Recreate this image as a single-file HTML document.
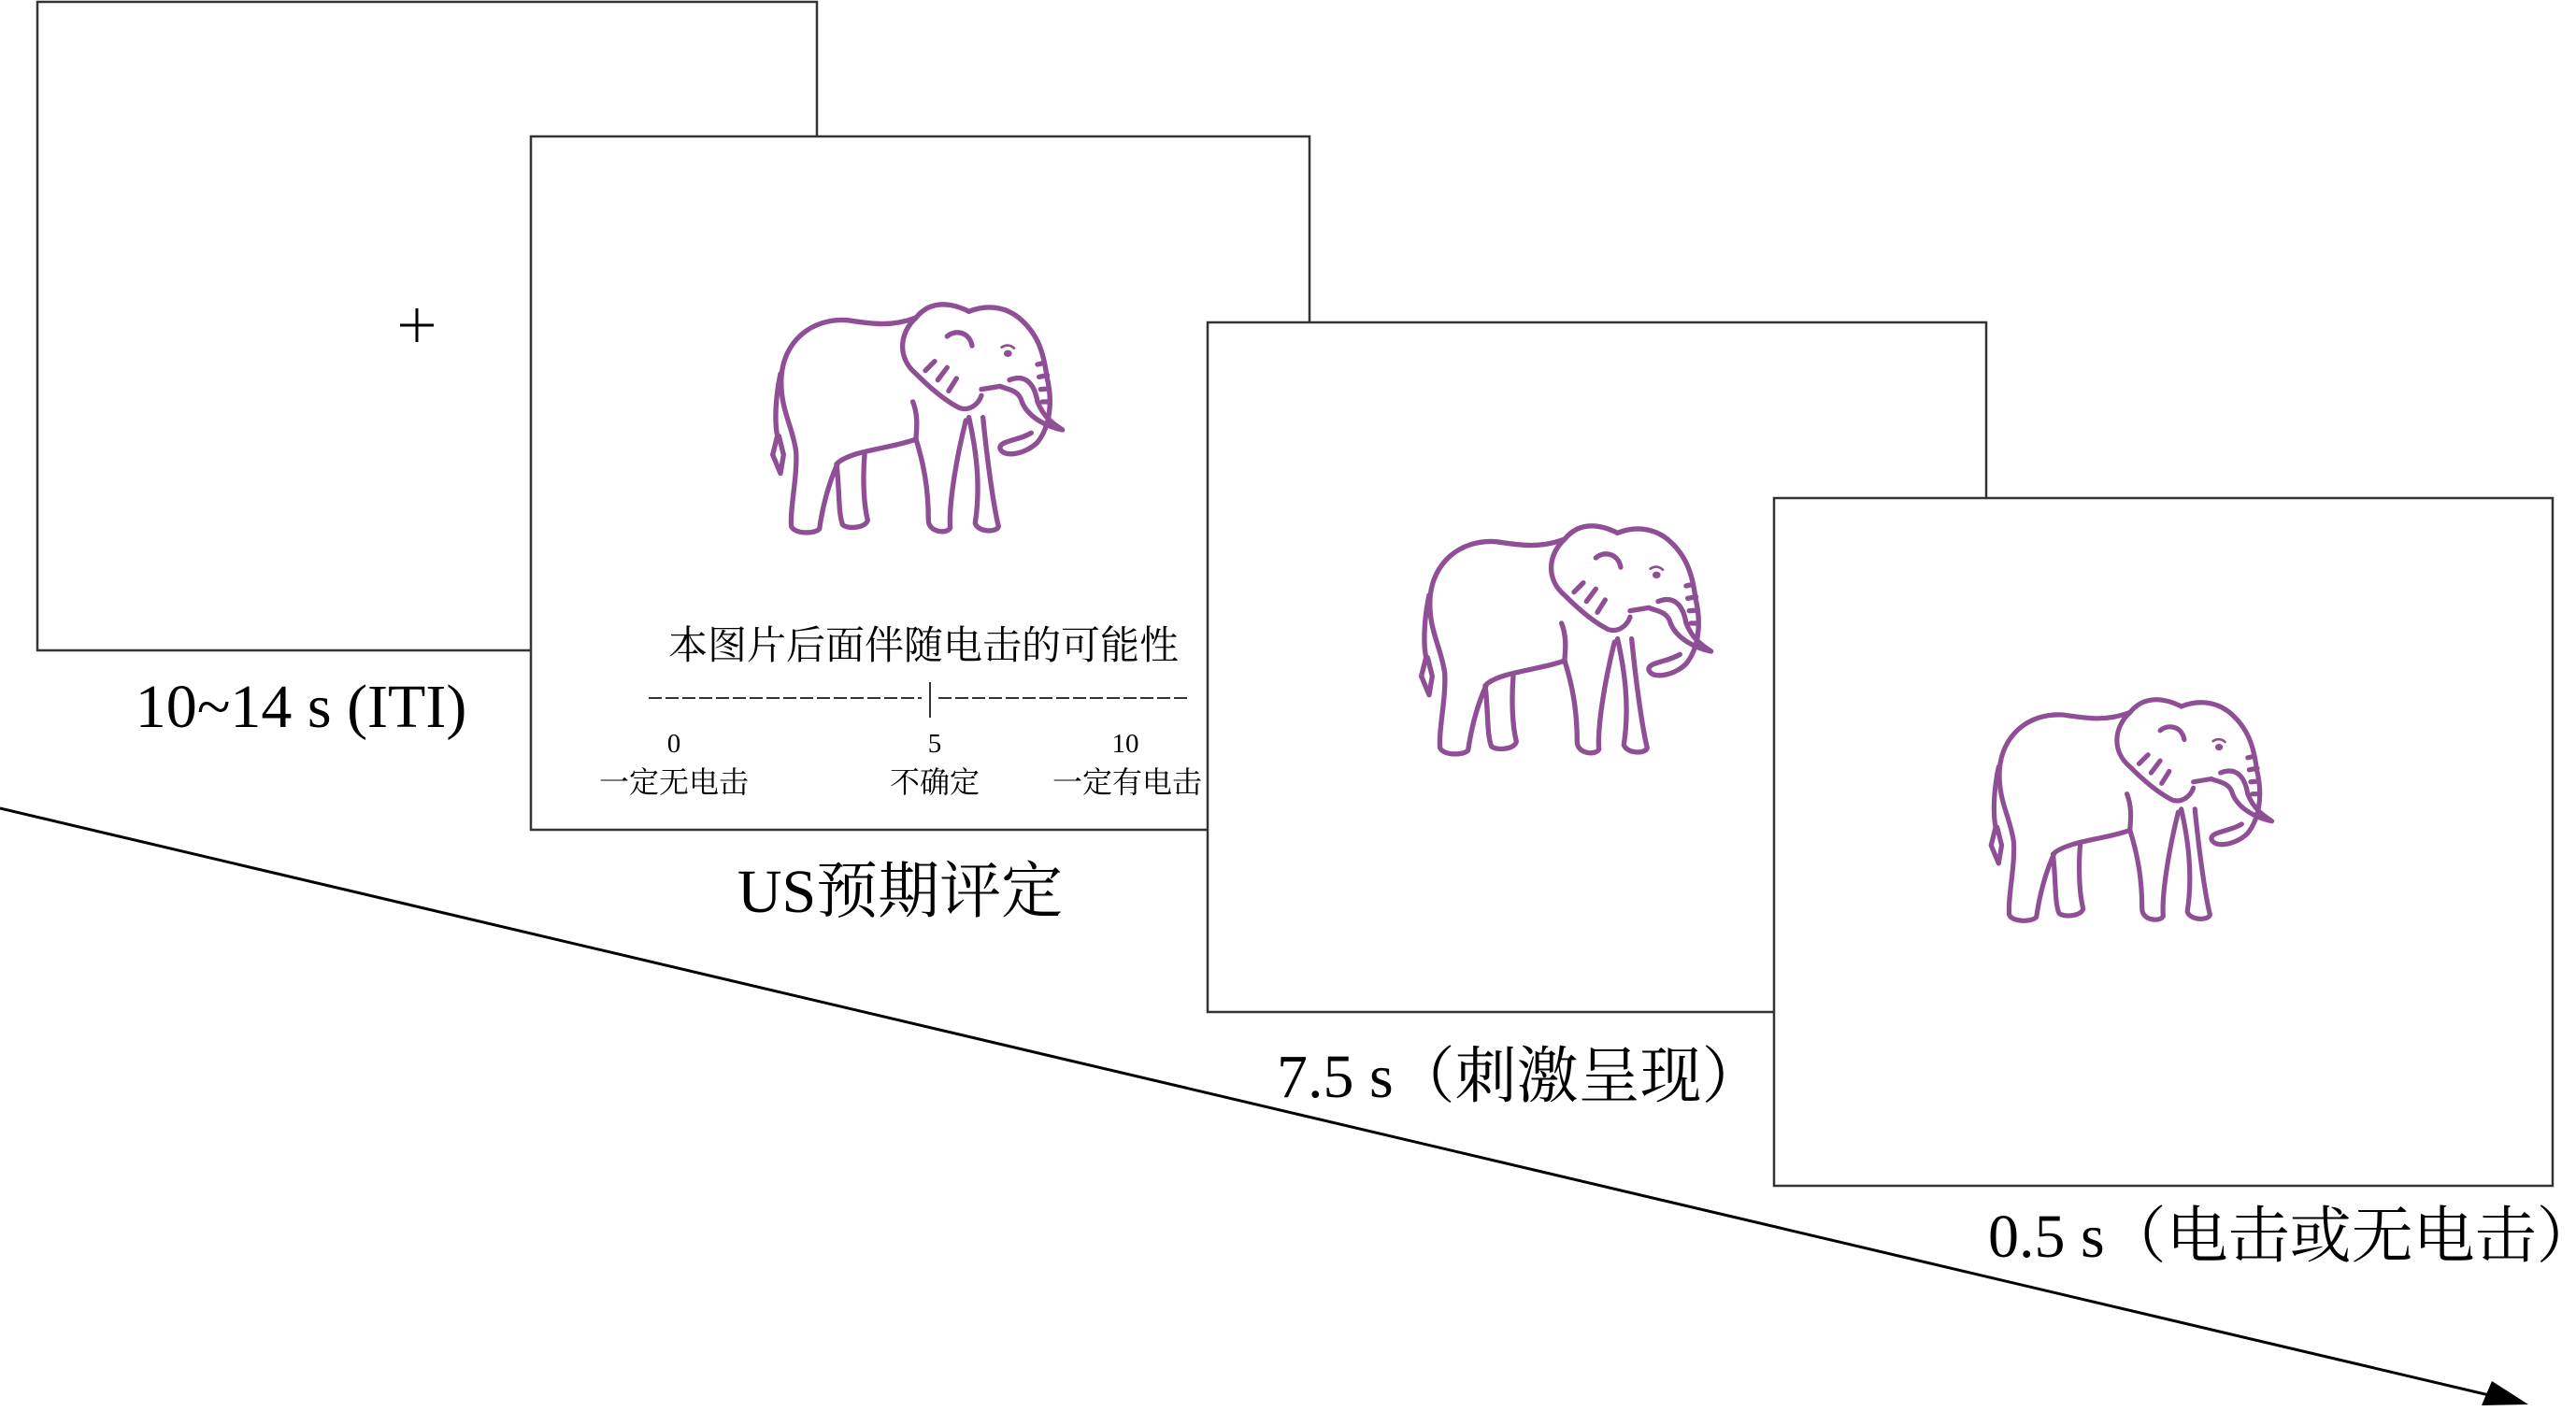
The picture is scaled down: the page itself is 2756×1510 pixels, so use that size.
<!DOCTYPE html>
<html><head><meta charset="utf-8"><style>
html,body{margin:0;padding:0;background:#fff;}
svg{display:block;}
text{font-family:"Liberation Serif","Noto Serif CJK SC",serif;fill:#000;}
</style></head><body>
<svg width="2756" height="1510" viewBox="0 0 2756 1510" xmlns="http://www.w3.org/2000/svg">
<defs>
<g id="ele" fill="none" stroke="#8e4f95" stroke-width="16" stroke-linecap="round" stroke-linejoin="round">
<path d="M600,150 C520,180 460,170 380,158 C260,150 175,230 168,340 C162,440 205,500 215,580 C220,660 195,760 200,820 C210,845 275,845 290,828 C300,760 320,680 350,615 C400,575 520,570 600,540"/>
<path d="M345,620 C355,700 350,780 365,815 C380,830 440,825 445,800 C430,740 430,650 435,590"/>
<path d="M600,540 C625,620 640,700 640,800 C640,840 700,845 710,825 C705,760 725,620 760,480"/>
<path d="M770,470 C790,560 810,680 790,810 C800,840 860,840 865,820 C850,760 830,620 815,470"/>
<path d="M590,420 C610,470 600,520 600,540"/>
<path d="M600,150 C640,100 700,95 770,130"/>
<path d="M600,150 C545,200 540,280 600,330 C650,380 700,420 740,440 C770,450 800,430 810,400"/>
<path d="M770,130 C820,110 880,110 930,150 C990,200 1010,260 1020,340 C1040,420 1030,500 990,550 C950,590 880,600 870,570 C865,545 930,545 970,520"/>
<path d="M900,350 C950,330 980,360 990,420 C1010,470 1040,490 1070,510 C1020,500 960,470 940,420 C930,380 890,380 870,370 L810,380"/>
<path d="M700,210 C720,190 770,190 780,240"/>
<path d="M630,320 L660,290 M670,350 L700,310 M705,385 L730,345"/>
<path d="M990,300 L1012,295 M995,340 L1022,335 M1000,380 L1026,378 M1005,420 L1028,420"/>
<path d="M165,330 C150,400 145,480 155,530 L140,590 L165,650 L175,590 L160,530"/>
<ellipse cx="895" cy="265" rx="10" ry="8" fill="#8e4f95" stroke-width="6"/>
<path d="M875,245 C890,235 905,238 915,248" stroke-width="8"/>
</g>
</defs>

<line x1="0" y1="865" x2="2680" y2="1497" stroke="#000" stroke-width="3"/>
<polygon points="2705,1503 2655,1504 2666,1478" fill="#000"/>

<rect x="40" y="2" width="834" height="694" fill="#fff" stroke="#333" stroke-width="2.5"/>
<path d="M446,330 V366 M428,348 H464" stroke="#000" stroke-width="3"/>
<text x="322" y="778" font-size="66" text-anchor="middle">10~14 s (ITI)</text>

<rect x="568" y="146" width="833" height="742" fill="#fff" stroke="#333" stroke-width="2.5"/>
<use href="#ele" transform="translate(780,290) scale(0.3333)"/>
<text x="988" y="705" font-size="42" text-anchor="middle">本图片后面伴随电击的可能性</text>
<line x1="694" y1="747" x2="986" y2="747" stroke="#333" stroke-width="2" stroke-dasharray="14,4"/>
<line x1="1004" y1="747" x2="1274" y2="747" stroke="#333" stroke-width="2" stroke-dasharray="14,4"/>
<line x1="995" y1="730" x2="995" y2="768" stroke="#333" stroke-width="2"/>
<text x="721" y="805" font-size="29" text-anchor="middle">0</text>
<text x="1000" y="805" font-size="29" text-anchor="middle">5</text>
<text x="1204" y="805" font-size="29" text-anchor="middle">10</text>
<text x="721" y="848" font-size="32" text-anchor="middle">一定无电击</text>
<text x="1000" y="848" font-size="32" text-anchor="middle">不确定</text>
<text x="1206" y="848" font-size="32" text-anchor="middle">一定有电击</text>
<text x="963" y="976" font-size="66" text-anchor="middle">US预期评定</text>

<rect x="1292" y="345" width="833" height="738" fill="#fff" stroke="#333" stroke-width="2.5"/>
<use href="#ele" transform="translate(1474,527) scale(0.3333)"/>
<text x="1366" y="1174" font-size="66">7.5 s（刺激呈现）</text>

<rect x="1898" y="533" width="833" height="736" fill="#fff" stroke="#333" stroke-width="2.5"/>
<use href="#ele" transform="translate(2085,714) scale(0.323)"/>
<text x="2127" y="1345" font-size="66">0.5 s（电击或无电击）</text>
</svg>
</body></html>
